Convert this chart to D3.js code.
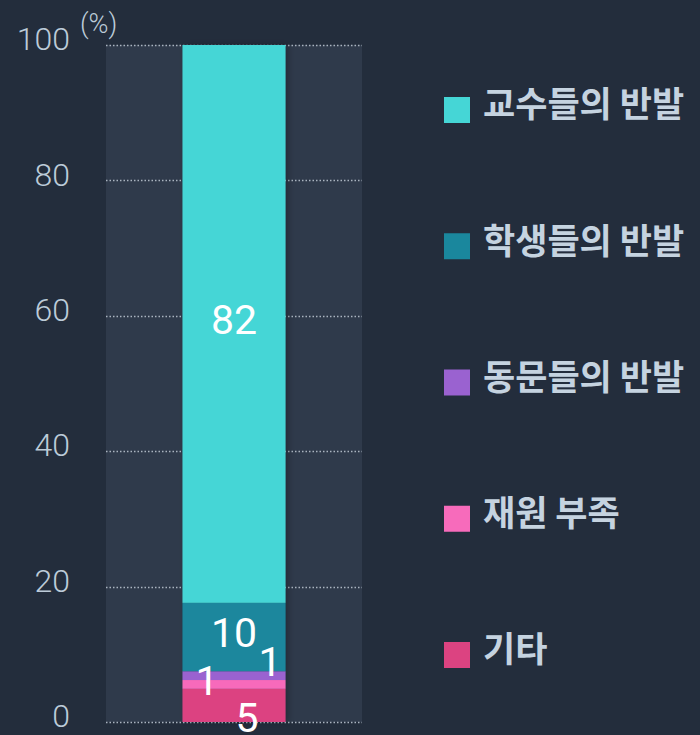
<!DOCTYPE html>
<html>
<head>
<meta charset="utf-8">
<script src="https://cdn.jsdelivr.net/npm/d3@7"></script>
<style>
  body { margin: 0; background: #232d3c; }
  svg { display: block; }
  .tick-label { font-family: Roboto, "Noto Sans", sans-serif; font-weight: 300; fill: #bccbd8; }
  .legend-text { font-family: "Noto Sans CJK KR", sans-serif; font-weight: 700; fill: #c5d3e0; }
  .val { font-family: Roboto, "Noto Sans", sans-serif; font-weight: 400; fill: #ffffff; }
</style>
</head>
<body>
<svg id="chart" width="700" height="735"></svg>
<script>
// categories, bottom to top
var categories = ["기타", "재원 부족", "동문들의 반발", "학생들의 반발", "교수들의 반발"];
var values = [4.9, 1.3, 1.3, 10.1, 82.4];
var valueLabels = ["5", "1", "1", "10", "82"];
var colors = ["#dc4381", "#f76bbb", "#9a62d0", "#1a879d", "#45d6d6"];
var yTicks = [0, 20, 40, 60, 80, 100];

// label nudges so the small segments don't overlap
var labelDx = [13, -27, 36, 0, 0];
var labelDy = [12, -4, -14, -4, -4];

var svg = d3.select("#chart");

var x = d3.scaleBand().domain(["all"]).range([106, 362]).padding(0.426);
var y = d3.scaleLinear().domain([0, 100]).range([722, 45]);

// background band
svg.append("rect")
  .attr("x", 106).attr("y", y(100))
  .attr("width", 256).attr("height", y(0) - y(100))
  .attr("fill", "#2f3a4b");

// grid lines
svg.selectAll(".grid")
  .data(yTicks)
  .enter().append("line")
  .attr("x1", 106).attr("x2", 362)
  .attr("y1", function (d) { return Math.round(y(d)) + 0.5; })
  .attr("y2", function (d) { return Math.round(y(d)) + 0.5; })
  .attr("stroke", "#aab4c0")
  .attr("stroke-width", 1.3)
  .attr("stroke-dasharray", "1.5,2");

// y labels
svg.selectAll(".tick-label")
  .data(yTicks)
  .enter().append("text")
  .attr("class", "tick-label")
  .attr("x", 70)
  .attr("y", function (d) { return y(d) - 6; })
  .attr("dy", "0.35em")
  .attr("text-anchor", "end")
  .style("font-size", "32px")
  .text(function (d) { return d; });

svg.append("text")
  .attr("class", "tick-label")
  .attr("x", 80).attr("y", 33)
  .style("font-size", "27px")
  .text("(%)");

// stacked data
var stack = [];
var acc = 0;
values.forEach(function (v, i) {
  stack.push({ cat: categories[i], y0: acc, y1: acc + v, label: valueLabels[i], color: colors[i], i: i });
  acc += v;
});

// shadow
var defs = svg.append("defs");
var f = defs.append("filter").attr("id", "shadow").attr("x", "-20%").attr("width", "140%");
f.append("feDropShadow").attr("dx", 3).attr("dy", 0).attr("stdDeviation", 3)
  .attr("flood-color", "#000").attr("flood-opacity", 0.25);

var bars = svg.append("g").attr("filter", "url(#shadow)");
bars.selectAll("rect")
  .data(stack)
  .enter().append("rect")
  .attr("x", x("all"))
  .attr("width", x.bandwidth())
  .attr("y", function (d) { return y(d.y1); })
  .attr("height", function (d) { return y(d.y0) - y(d.y1); })
  .attr("fill", function (d) { return d.color; });

svg.selectAll(".val")
  .data(stack)
  .enter().append("text")
  .attr("class", "val")
  .attr("x", function (d) { return x("all") + x.bandwidth() / 2 + labelDx[d.i]; })
  .attr("y", function (d) { return (y(d.y0) + y(d.y1)) / 2 + labelDy[d.i]; })
  .attr("dy", "0.35em")
  .attr("text-anchor", "middle")
  .style("font-size", "41px")
  .text(function (d) { return d.label; });

// legend, top to bottom
var legendData = categories.map(function (c, i) { return { cat: c, color: colors[i] }; }).reverse();
var legend = svg.selectAll(".legend")
  .data(legendData)
  .enter().append("g")
  .attr("transform", function (d, i) { return "translate(444," + (110 + i * 136.25) + ")"; });

legend.append("rect")
  .attr("x", 0).attr("y", -13)
  .attr("width", 26).attr("height", 26)
  .attr("fill", function (d) { return d.color; });

legend.append("text")
  .attr("class", "legend-text")
  .attr("x", 39).attr("y", -6)
  .attr("dy", "0.38em")
  .style("font-size", "35px")
  .text(function (d) { return d.cat; });
</script>
</body>
</html>
